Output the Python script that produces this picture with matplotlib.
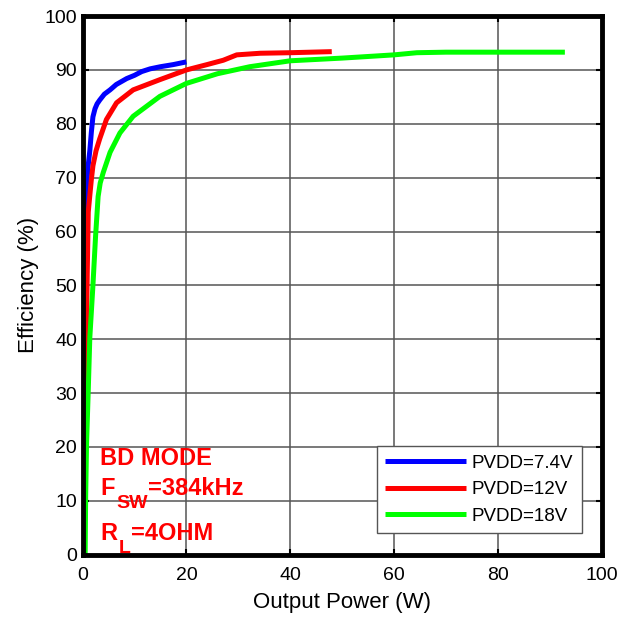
import matplotlib
matplotlib.use("Agg")
import matplotlib.pyplot as plt

plt.rcParams["font.family"] = ["Liberation Sans", "DejaVu Sans"]

# efficiency curves
blue_x = [0.15, 0.3, 0.45, 0.6, 0.77, 1.0, 1.4, 1.7, 2.0, 2.4, 2.8, 3.3, 4.2, 5.3, 6.5, 8.5, 10, 11.4, 13, 15, 17.5, 20]
blue_y = [0, 25, 45, 58, 68, 71.5, 75, 78.5, 81.3, 82.8, 83.7, 84.4, 85.5, 86.3, 87.3, 88.4, 89.0, 89.7, 90.2, 90.6, 91.0, 91.5]

red_x = [0.3, 0.5, 0.7, 0.9, 1.1, 1.4, 1.7, 2.0, 2.6, 3.3, 4.6, 6.55, 9.75, 14.9, 20, 24, 27.1, 29.7, 34.2, 40, 48]
red_y = [0, 20, 38, 52, 63.6, 66.7, 69.7, 72.2, 75, 77.2, 80.8, 83.9, 86.3, 88.2, 90, 91, 91.8, 92.8, 93.1, 93.2, 93.4]

green_x = [0.5, 0.6, 0.77, 1.1, 1.4, 2.0, 2.5, 3.0, 3.4, 4.0, 5.3, 7.2, 9.75, 14.9, 20, 26, 32.2, 40, 50, 60, 64.4, 70, 80, 92.9]
green_y = [0, 10.8, 20.6, 30.5, 40.3, 50, 59, 66.5, 69, 71, 74.7, 78.3, 81.4, 85.1, 87.5, 89.3, 90.6, 91.7, 92.2, 92.8, 93.2, 93.3, 93.3, 93.3]

labels = ["PVDD=7.4V", "PVDD=12V", "PVDD=18V"]
colors = ["#0000ff", "#ff0000", "#00ff00"]

fig = plt.figure(figsize=(6.35, 6.19), dpi=100)
ax = fig.add_axes([0.130, 0.104, 0.8176, 0.870])

for xs, ys, lab, c in zip([blue_x, red_x, green_x], [blue_y, red_y, green_y], labels, colors):
    ax.plot(xs, ys, color=c, lw=3.6, label=lab, solid_capstyle="butt")

ax.set_xlim(0, 100)
ax.set_ylim(0, 100)
ax.set_xticks(range(0, 101, 20))
ax.set_yticks(range(0, 101, 10))
ax.grid(True, color="#555555", lw=1.1)
ax.set_axisbelow(True)

for s in ax.spines.values():
    s.set_linewidth(3.5)
    s.set_color("black")

ax.tick_params(direction="in", length=4, width=1.5, top=True, right=True, labelsize=14)
ax.tick_params(axis="y", pad=4)
ax.tick_params(axis="x", pad=9)
ax.set_xlabel("Output Power (W)", fontsize=16, labelpad=6)
ax.set_ylabel("Efficiency (%)", fontsize=16, labelpad=4)

leg = ax.legend(loc="lower left", bbox_to_anchor=(0.567, 0.040), fontsize=13.5,
                handlelength=4.3, handletextpad=0.3, fancybox=False, framealpha=1,
                edgecolor="#555555", borderaxespad=0, borderpad=0.45, labelspacing=0.5)
leg.get_frame().set_linewidth(1.0)

# red annotation block, subscripts placed next to their letters
red = "#ff0000"
main = dict(color=red, fontsize=17, fontweight="bold", va="baseline", ha="left")
sub = dict(color=red, fontsize=14, fontweight="bold", va="baseline", ha="left")

ax.text(3.4, 16.6, "BD MODE", **main)

f = ax.text(3.4, 11.1, "F", **main)
sw = ax.annotate("SW", xy=(1, 11.1), xycoords=(f, "data"), xytext=(1, -9.5),
                 textcoords="offset points", **sub)
ax.annotate("=384kHz", xy=(1, 11.1), xycoords=(sw, "data"), xytext=(0.5, 0),
            textcoords="offset points", **main)

r = ax.text(3.4, 2.7, "R", **main)
sl = ax.annotate("L", xy=(1, 2.7), xycoords=(r, "data"), xytext=(1, -9.5),
                 textcoords="offset points", **sub)
ax.annotate("=4OHM", xy=(1, 2.7), xycoords=(sl, "data"), xytext=(0.5, 0),
            textcoords="offset points", **main)

fig.savefig("out.png", dpi=100)
